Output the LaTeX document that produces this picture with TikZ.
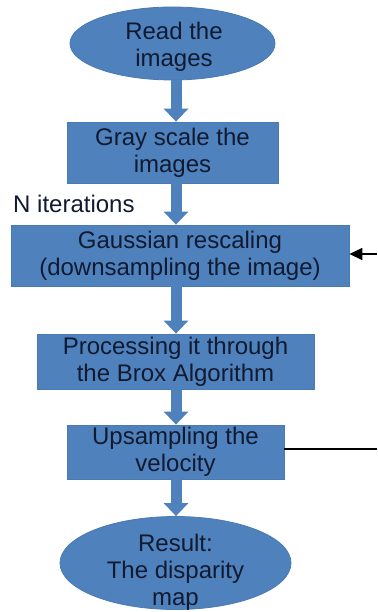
\documentclass[tikz,border=0pt]{standalone}
\usepackage{fontspec}
\setmainfont{Liberation Sans}
\usetikzlibrary{arrows.meta,shapes.geometric}
\definecolor{boxfill}{HTML}{4F81BD}
\definecolor{boxedge}{HTML}{4A7AB3}
\definecolor{boxtext}{HTML}{101A30}
\tikzset{
  flowtext/.style={font=\fontsize{24}{27}\selectfont, text=boxtext, align=center},
  stepbox/.style={rectangle, fill=boxfill, draw=boxedge, line width=0.8pt,
    inner sep=0pt, flowtext},
  terminal/.style={ellipse, fill=boxfill, draw=boxedge, line width=0.8pt,
    inner sep=0pt, flowtext},
  blockarrow/.style={draw=boxfill, line width=11pt,
    -{Triangle[width=24pt,length=13pt]}},
  loopline/.style={draw=black, line width=1.4pt}
}
\begin{document}
\begin{tikzpicture}[x=1pt, y=-1pt]
  \useasboundingbox (0,0) rectangle (377,612);
  \fill[white] (0,0) rectangle (377,612);

  % vertical line along which the block arrows run
  \coordinate (spine) at (176,0);

  % process steps
  \node[terminal, minimum width=205pt, minimum height=73pt] (read) at (172.5,43.5) {};
  \node[flowtext] (readtext) at (174,47) {Read the\\images};
  \node[stepbox, minimum width=211pt, minimum height=61pt] (gray) at (172.5,152.5) {Gray scale the\\images};
  \node[stepbox, minimum width=338pt, minimum height=61pt] (gauss) at (180,255.5) {Gaussian rescaling\\(downsampling the image)};
  \node[stepbox, minimum width=277pt, minimum height=55pt] (brox) at (175.5,361.5) {Processing it through\\the Brox Algorithm};
  \node[stepbox, minimum width=217pt, minimum height=54pt] (up) at (175.5,452) {Upsampling the\\velocity};
  \node[terminal, minimum width=231pt, minimum height=93pt] (result) at (175.5,563) {};
  \node[flowtext] (resulttext) at (175.5,572) {Result:\\The disparity\\map};

  % iteration label
  \node[flowtext, anchor=base west, inner sep=0pt] (iter) at (13,212) {N iterations};

  % flow arrows
  \draw[blockarrow] (read.south -| spine) -- (gray.north -| spine);
  \draw[blockarrow] (gray.south -| spine) -- (gauss.north -| spine);
  \draw[blockarrow] (gauss.south -| spine) -- (brox.north -| spine);
  \draw[blockarrow] (brox.south -| spine) -- (up.north -| spine);
  \draw[blockarrow] (up.south -| spine) -- (result.north -| spine);

  % loop back from upsampling to rescaling
  \coordinate (loopout) at (377,449);
  \coordinate (loopin) at (377,254);
  \draw[loopline] (up.east |- loopout) -- (loopout);
  \draw[loopline, -{Triangle[width=12pt,length=13pt]}] (loopin) -- (gauss.east |- loopin);
\end{tikzpicture}
\end{document}
